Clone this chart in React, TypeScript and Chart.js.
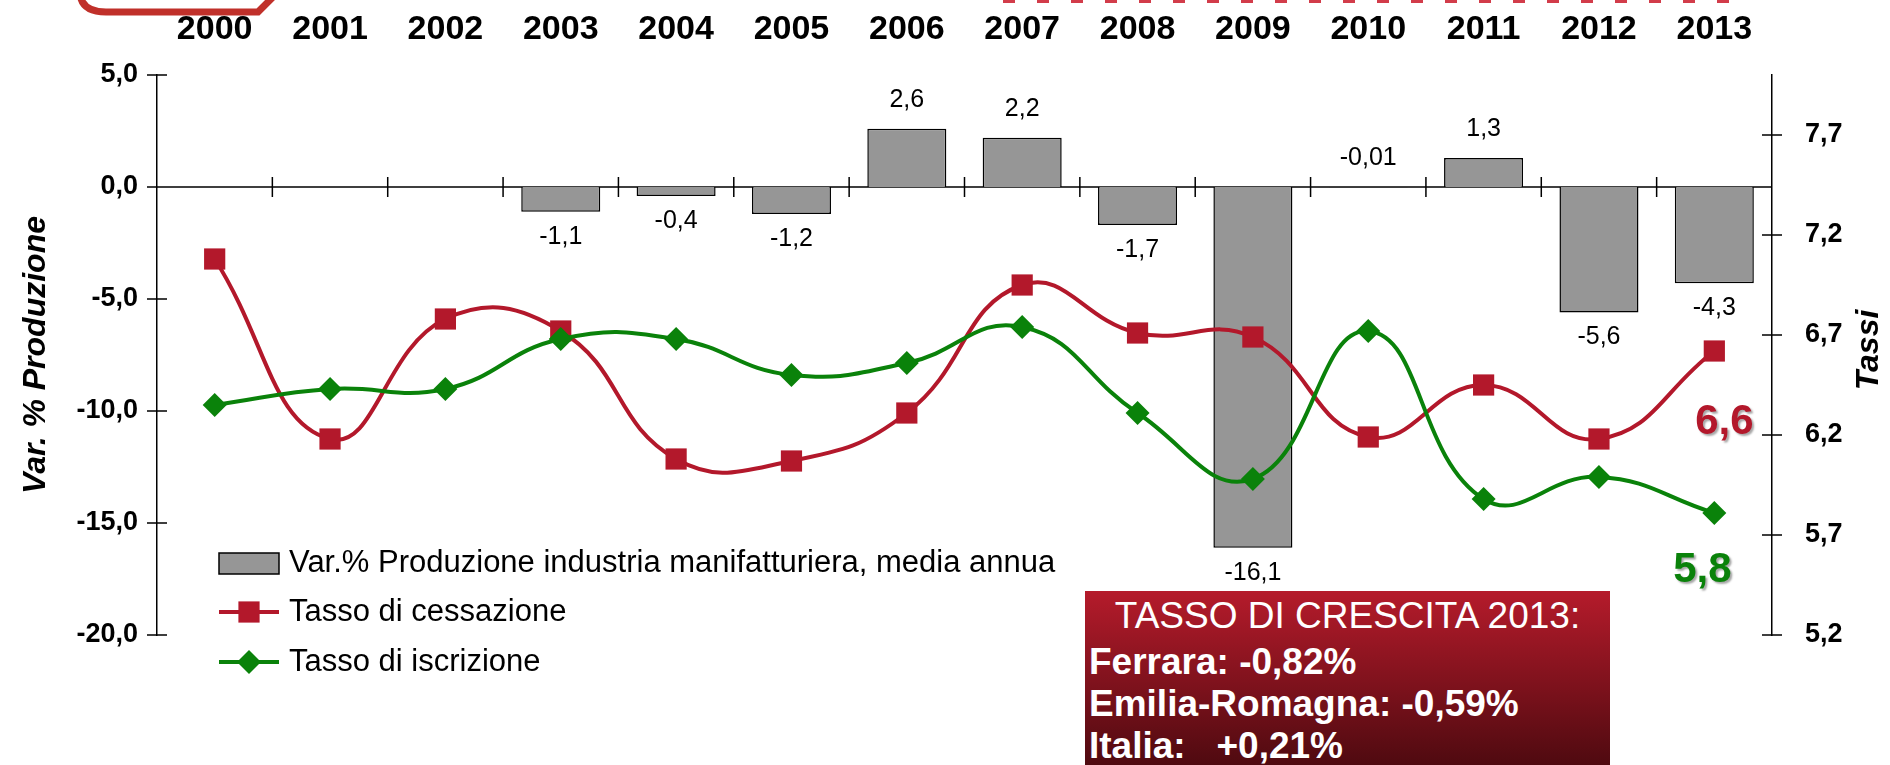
import React, { useEffect, useRef } from 'react';
import { Chart, registerables } from 'chart.js';

Chart.register(...registerables);

// ---------- DATA ----------
const years = ['2000', '2001', '2002', '2003', '2004', '2005', '2006', '2007', '2008', '2009', '2010', '2011', '2012', '2013'];
const produzione: (number | null)[] = [null, null, null, -1.1, -0.4, -1.2, 2.6, 2.2, -1.7, -16.1, -0.01, 1.3, -5.6, -4.3];
const cessazione = [7.08, 6.18, 6.78, 6.72, 6.08, 6.07, 6.31, 6.95, 6.71, 6.69, 6.19, 6.45, 6.18, 6.62];
const iscrizione = [6.35, 6.43, 6.43, 6.68, 6.68, 6.50, 6.56, 6.74, 6.31, 5.98, 6.72, 5.88, 5.99, 5.81];
const leftTicks = [-20, -15, -10, -5, 0, 5];
const rightTicks = [5.2, 5.7, 6.2, 6.7, 7.2, 7.7];
const seriesNames = [
  'Var.% Produzione industria manifatturiera, media annua',
  'Tasso di cessazione',
  'Tasso di iscrizione',
];
const leftTitle = 'Var. % Produzione';
const rightTitle = 'Tassi';
const boxTitle = 'TASSO DI CRESCITA 2013:';
const boxLines = ['Ferrara: -0,82%', 'Emilia-Romagna: -0,59%', 'Italia:   +0,21%'];

// ---------- STYLE ----------
const FONT = '"Liberation Sans", Arial, Helvetica, sans-serif';
const RED = '#b3182b';
const GREEN = '#0a820a';
const GRAY = '#969696';

const fmt = (v: number) => String(v).replace('.', ',');
const fmt1 = (v: number) => v.toFixed(1).replace('.', ',');

const drawMarker = (ctx: CanvasRenderingContext2D, style: string, x: number, y: number, r: number, color: string) => {
  ctx.fillStyle = color;
  ctx.beginPath();
  if (style === 'rect') {
    const s = r * Math.SQRT1_2;
    ctx.rect(x - s, y - s, 2 * s, 2 * s);
  } else {
    ctx.moveTo(x, y - r);
    ctx.lineTo(x + r, y);
    ctx.lineTo(x, y + r);
    ctx.lineTo(x - r, y);
    ctx.closePath();
  }
  ctx.fill();
};

const overlay = {
  id: 'overlay',
  beforeDatasetsDraw(chart: any) {
    const { ctx, chartArea, scales } = chart;
    const xs = scales.x, ys = scales.y, ys1 = scales.y1;
    ctx.save();
    ctx.strokeStyle = '#000';
    ctx.lineWidth = 1.5;
    const y0 = ys.getPixelForValue(0);
    ctx.beginPath();
    ctx.moveTo(chartArea.left, y0);
    ctx.lineTo(chartArea.right, y0);
    for (let i = 1; i < years.length; i++) {
      const px = xs.getPixelForValue(i - 0.5);
      ctx.moveTo(px, y0 - 10);
      ctx.lineTo(px, y0 + 10);
    }
    ys.ticks.forEach((t: any) => {
      const py = ys.getPixelForValue(t.value);
      ctx.moveTo(chartArea.left - 10, py);
      ctx.lineTo(chartArea.left + 10, py);
    });
    ys1.ticks.forEach((t: any) => {
      const py = ys1.getPixelForValue(t.value);
      ctx.moveTo(chartArea.right - 10, py);
      ctx.lineTo(chartArea.right + 10, py);
    });
    ctx.stroke();
    ctx.restore();
  },
  afterDatasetsDraw(chart: any) {
    const { ctx } = chart;
    ctx.save();
    // bar value labels
    const barMeta = chart.getDatasetMeta(2);
    ctx.font = `25px ${FONT}`;
    ctx.fillStyle = '#000';
    ctx.textAlign = 'center';
    ctx.textBaseline = 'middle';
    barMeta.data.forEach((el: any, i: number) => {
      const v = produzione[i];
      if (v == null) return;
      const top = Math.min(el.y, el.base);
      const bottom = Math.max(el.y, el.base);
      if (v > -0.05) ctx.fillText(fmt(v), el.x, top - 29);
      else ctx.fillText(fmt(v), el.x, bottom + 25);
    });
    // last value annotations
    const redMeta = chart.getDatasetMeta(0);
    const greenMeta = chart.getDatasetMeta(1);
    const rp = redMeta.data[redMeta.data.length - 1];
    const gp = greenMeta.data[greenMeta.data.length - 1];
    ctx.font = `bold 42px ${FONT}`;
    ctx.shadowColor = 'rgba(0,0,0,0.35)';
    ctx.shadowOffsetX = 2;
    ctx.shadowOffsetY = 2;
    ctx.shadowBlur = 2;
    ctx.fillStyle = RED;
    ctx.fillText(fmt1(cessazione[cessazione.length - 1]), rp.x + 10, rp.y + 71);
    ctx.fillStyle = GREEN;
    ctx.fillText(fmt1(iscrizione[iscrizione.length - 1]), gp.x - 12, gp.y + 57);
    ctx.restore();
  },
  afterDraw(chart: any) {
    const { ctx, chartArea } = chart;
    ctx.save();
    // legend
    const lx = 219, lw = 60, tx = 289;
    const rows = [563, 612, 662];
    ctx.font = `31px ${FONT}`;
    ctx.textBaseline = 'middle';
    ctx.textAlign = 'left';
    ctx.fillStyle = GRAY;
    ctx.fillRect(lx, rows[0] - 10, lw, 21);
    ctx.strokeStyle = '#000';
    ctx.lineWidth = 1.5;
    ctx.strokeRect(lx, rows[0] - 10, lw, 21);
    ctx.lineWidth = 4;
    ctx.strokeStyle = RED;
    ctx.beginPath();
    ctx.moveTo(lx, rows[1]);
    ctx.lineTo(lx + lw, rows[1]);
    ctx.stroke();
    drawMarker(ctx, 'rect', lx + lw / 2, rows[1], 15, RED);
    ctx.strokeStyle = GREEN;
    ctx.beginPath();
    ctx.moveTo(lx, rows[2]);
    ctx.lineTo(lx + lw, rows[2]);
    ctx.stroke();
    drawMarker(ctx, 'diamond', lx + lw / 2, rows[2], 12, GREEN);
    ctx.fillStyle = '#000';
    seriesNames.forEach((n, i) => ctx.fillText(n, tx, rows[i]));

    // axis titles
    const cy = (chartArea.top + chartArea.bottom) / 2;
    ctx.font = `italic bold 32px ${FONT}`;
    ctx.textAlign = 'center';
    ctx.save();
    ctx.translate(36, cy);
    ctx.rotate(-Math.PI / 2);
    ctx.fillText(leftTitle, 0, 0);
    ctx.restore();
    ctx.save();
    ctx.translate(1869, cy - 5);
    ctx.rotate(-Math.PI / 2);
    ctx.fillText(rightTitle, 0, 0);
    ctx.restore();

    // cropped logo fragment top-left
    ctx.strokeStyle = '#c0302a';
    ctx.lineWidth = 7;
    ctx.lineJoin = 'miter';
    ctx.beginPath();
    ctx.moveTo(80, -6);
    ctx.quadraticCurveTo(82, 12, 106, 12);
    ctx.lineTo(258, 12);
    ctx.lineTo(276, -6);
    ctx.stroke();
    // cropped heading fragments top-right
    ctx.strokeStyle = '#d23c4a';
    ctx.lineWidth = 4;
    ctx.setLineDash([12, 22]);
    ctx.beginPath();
    ctx.moveTo(1003, 1);
    ctx.lineTo(1750, 1);
    ctx.stroke();
    ctx.restore();
  },
};

export default function App() {
  const ref = useRef<HTMLCanvasElement>(null);
  useEffect(() => {
    if (!ref.current) return;
    const chart = new Chart(ref.current, {
      type: 'bar',
      data: {
        labels: years,
        datasets: [
          {
            type: 'line',
            label: seriesNames[1],
            data: cessazione,
            yAxisID: 'y1',
            borderColor: RED,
            backgroundColor: RED,
            borderWidth: 4,
            tension: 0.45,
            pointStyle: 'rect',
            pointRadius: 15,
            pointBorderWidth: 0,
            pointBackgroundColor: RED,
            order: 1,
          } as any,
          {
            type: 'line',
            label: seriesNames[2],
            data: iscrizione,
            yAxisID: 'y1',
            borderColor: GREEN,
            backgroundColor: GREEN,
            borderWidth: 4,
            tension: 0.45,
            pointStyle: 'rectRot',
            pointRadius: 12,
            pointBorderWidth: 0,
            pointBackgroundColor: GREEN,
            order: 0,
          } as any,
          {
            type: 'bar',
            label: seriesNames[0],
            data: produzione,
            yAxisID: 'y',
            backgroundColor: GRAY,
            borderColor: '#000',
            borderWidth: 1.5,
            barPercentage: 0.685,
            categoryPercentage: 1,
            order: 2,
          } as any,
        ],
      },
      options: {
        responsive: false,
        animation: false,
        layout: { padding: { left: 0, right: 0, top: 0, bottom: 130 } },
        plugins: { legend: { display: false }, tooltip: { enabled: false } },
        scales: {
          x: {
            position: 'top',
            offset: true,
            grid: { display: false, drawTicks: false },
            border: { display: false },
            ticks: {
              font: { family: FONT, size: 34, weight: 'bold' },
              color: '#000',
              padding: 25,
              maxRotation: 0,
              autoSkip: false,
            },
            afterFit: (s: any) => { s.height = 75; },
          },
          y: {
            position: 'left',
            min: -20,
            max: 5,
            grid: { display: false, drawTicks: false },
            border: { display: true, color: '#000', width: 1.5 },
            ticks: {
              font: { family: FONT, size: 27, weight: 'bold' },
              color: '#000',
              padding: 19,
              callback: (v: any) => fmt1(Number(v)),
            },
            afterBuildTicks: (s: any) => { s.ticks = leftTicks.map((v) => ({ value: v })); },
            afterFit: (s: any) => { s.width = 157; },
          },
          y1: {
            position: 'right',
            min: 5.2,
            max: 8.0,
            grid: { display: false, drawTicks: false },
            border: { display: true, color: '#000', width: 1.5 },
            ticks: {
              font: { family: FONT, size: 27, weight: 'bold' },
              color: '#000',
              padding: 33,
              callback: (v: any) => fmt1(Number(v)),
            },
            afterBuildTicks: (s: any) => { s.ticks = rightTicks.map((v) => ({ value: v })); },
            afterFit: (s: any) => { s.width = 118; },
          },
        },
      } as any,
      plugins: [overlay],
    });
    return () => chart.destroy();
  }, []);

  return (
    <div style={{ position: 'absolute', left: 0, top: 0, width: 1890, height: 765, overflow: 'hidden', background: '#fff' }}>
      <canvas ref={ref} width={1890} height={765} style={{ display: 'block' }} />
      <div
        style={{
          position: 'absolute',
          left: 1085,
          top: 591,
          width: 525,
          height: 174,
          background: 'linear-gradient(#b51b2b, #4f0a10)',
          color: '#fff',
          fontFamily: FONT,
          overflow: 'hidden',
        }}
      >
        <div style={{ textAlign: 'center', fontSize: 37, lineHeight: '50px', whiteSpace: 'nowrap' }}>{boxTitle}</div>
        {boxLines.map((l) => (
          <div key={l} style={{ fontWeight: 'bold', fontSize: 37, lineHeight: '42px', paddingLeft: 4, whiteSpace: 'pre' }}>
            {l}
          </div>
        ))}
      </div>
    </div>
  );
}
